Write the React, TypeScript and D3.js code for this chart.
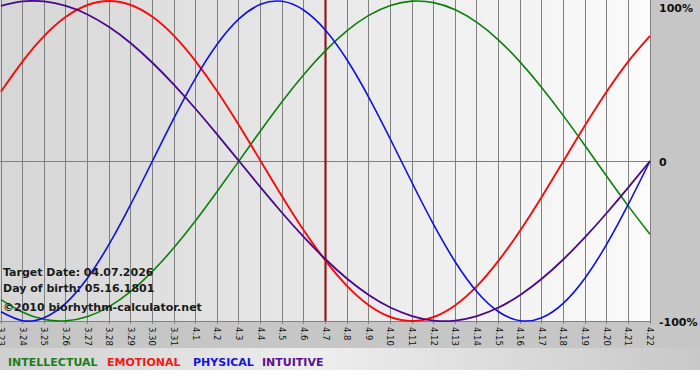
import React from "react";
import * as d3 from "d3";

const dates = ["3.23","3.24","3.25","3.26","3.27","3.28","3.29","3.30","3.31","4.1","4.2","4.3","4.4","4.5","4.6","4.7","4.8","4.9","4.10","4.11","4.12","4.13","4.14","4.15","4.16","4.17","4.18","4.19","4.20","4.21","4.22"];

const intellectual = [-0.866,-0.945,-0.990,-0.999,-0.972,-0.910,-0.815,-0.690,-0.541,-0.372,-0.189,0,0.189,0.372,0.541,0.690,0.815,0.910,0.972,0.999,0.990,0.945,0.866,0.756,0.618,0.458,0.282,0.095,-0.095,-0.282,-0.458];
const emotional = [0.434,0.623,0.782,0.901,0.975,1.0,0.975,0.901,0.782,0.623,0.434,0.223,0,-0.223,-0.434,-0.623,-0.782,-0.901,-0.975,-1.0,-0.975,-0.901,-0.782,-0.623,-0.434,-0.223,0,0.223,0.434,0.623,0.782];
const physical = [-0.942,-0.998,-0.979,-0.888,-0.731,-0.520,-0.270,0,0.270,0.520,0.731,0.888,0.979,0.998,0.942,0.817,0.631,0.398,0.136,-0.136,-0.398,-0.631,-0.817,-0.942,-0.998,-0.979,-0.888,-0.731,-0.520,-0.270,0];
const intuitive = [0.969,0.997,0.997,0.969,0.916,0.837,0.736,0.614,0.476,0.325,0.165,0,-0.165,-0.325,-0.476,-0.614,-0.736,-0.837,-0.916,-0.969,-0.997,-0.997,-0.969,-0.916,-0.837,-0.736,-0.614,-0.476,-0.325,-0.165,0];

const targetIndex = 15;
const yTicks = [1, 0, -1];
const yTickLabels = ["100%", "0", "-100%"];
const infoLines = ["Target Date: 04.07.2026", "Day of birth: 05.16.1801", "\u00a92010 biorhythm-calculator.net"];
const legendNames = ["INTELLECTUAL", "EMOTIONAL", "PHYSICAL", "INTUITIVE"];

export default function App() {
  const W = 700, H = 380;
  const plotL = 0, plotR = 651, plotT = 0, plotB = 321;
  const x = d3.scaleLinear().domain([0, dates.length - 1]).range([1, 650]);
  const y = d3.scaleLinear().domain([-1, 1]).range([321, 1]);
  const line = d3.line<number>().x((_, i) => x(i)).y((d) => y(d)).curve(d3.curveNatural);

  const series = [
    { data: intellectual, color: "#0b800b", w: 1.6 },
    { data: emotional, color: "#f50d0d", w: 1.9 },
    { data: physical, color: "#1010e0", w: 1.6 },
    { data: intuitive, color: "#4a0a8a", w: 1.8 },
  ];
  const legendColors = ["#1d7d1d", "#f01818", "#1515d8", "#5a1090"];
  const legendX = [8, 107, 193, 262];
  const infoY = [276, 292, 311];
  const font = "'DejaVu Sans', Verdana, sans-serif";

  return (
    <svg width={W} height={H} style={{ position: "absolute", left: 0, top: 0 }} fontFamily={font}>
      <defs>
        <linearGradient id="plotbg" x1="0" x2="1" y1="0" y2="0">
          <stop offset="0" stopColor="#d6d6d6" />
          <stop offset="1" stopColor="#fbfbfb" />
        </linearGradient>
        <linearGradient id="legbg" x1="0" x2="1" y1="0" y2="0">
          <stop offset="0" stopColor="#cfcfcf" />
          <stop offset="0.45" stopColor="#eeeeee" />
          <stop offset="1" stopColor="#c8c8c8" />
        </linearGradient>
        <clipPath id="plotclip">
          <rect x={plotL} y={plotT} width={plotR - plotL} height={plotB - plotT + 1} />
        </clipPath>
      </defs>
      <rect x={0} y={0} width={W} height={H} fill="#c6c6c6" />
      <rect x={0} y={348} width={W} height={22} fill="url(#legbg)" />
      <rect x={0} y={370} width={W} height={10} fill="#ffffff" />
      <rect x={plotL} y={plotT} width={plotR - plotL} height={plotB - plotT} fill="url(#plotbg)" />
      {dates.map((d, i) => (
        <line key={"g" + i} x1={x(i)} x2={x(i)} y1={plotT} y2={plotB + 3} stroke="#808080" strokeWidth={1} shapeRendering="crispEdges" />
      ))}
      <line x1={plotL} x2={plotR} y1={y(0)} y2={y(0)} stroke="#808080" strokeWidth={1} shapeRendering="crispEdges" />
      <line x1={plotL} x2={plotR} y1={plotB} y2={plotB} stroke="#808080" strokeWidth={1} shapeRendering="crispEdges" />
      <g clipPath="url(#plotclip)">
        <line x1={x(targetIndex)} x2={x(targetIndex)} y1={plotT} y2={plotB} stroke="#8a1c1c" strokeWidth={2.2} />
        {series.map((s, k) => (
          <path key={"s" + k} d={line(s.data) || ""} fill="none" stroke={s.color} strokeWidth={s.w} />
        ))}
      </g>
      {dates.map((d, i) => (
        <text key={"t" + i} transform={`translate(${x(i) - 3},${plotB + 6}) rotate(90)`} fontSize={8.5} fill="#111">
          {d}
        </text>
      ))}
      {yTicks.map((v, i) => (
        <text key={"y" + i} x={659} y={Math.max(y(v) + 5, 12)} fontSize={11} fontWeight="bold" fill="#111">
          {yTickLabels[i]}
        </text>
      ))}
      {infoLines.map((t, i) => (
        <text key={"i" + i} x={3} y={infoY[i]} fontSize={11} fontWeight="bold" fill="#1a1a1a">
          {t}
        </text>
      ))}
      {legendNames.map((n, i) => (
        <text key={"l" + i} x={legendX[i]} y={366} fontSize={11} fontWeight="bold" fill={legendColors[i]}>
          {n}
        </text>
      ))}
    </svg>
  );
}
